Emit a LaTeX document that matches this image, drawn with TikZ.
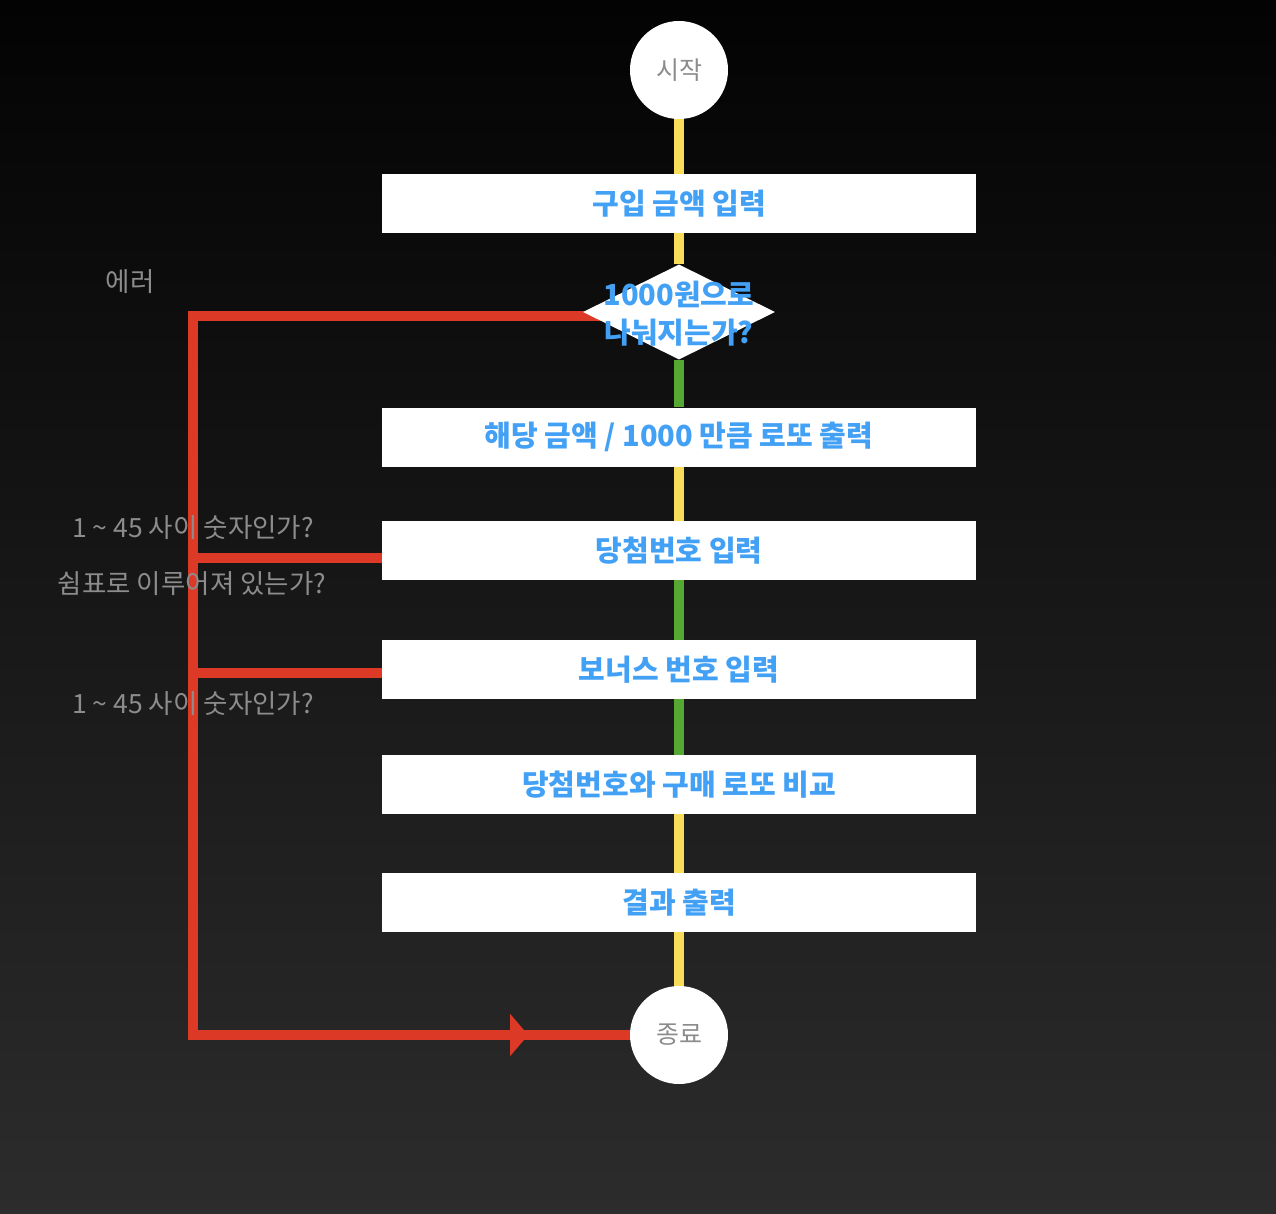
\documentclass[tikz,border=0pt]{standalone}
\usepackage{fontspec}
\setmainfont{Noto Sans CJK KR}
\usetikzlibrary{shapes.geometric}
\definecolor{bluet}{RGB}{66,160,245}
\definecolor{grayt}{RGB}{140,140,140}
\definecolor{redl}{RGB}{220,58,38}
\definecolor{yell}{RGB}{247,221,90}
\definecolor{greenl}{RGB}{85,168,50}
\definecolor{bgtop}{RGB}{3,3,3}
\definecolor{bgbot}{RGB}{44,44,44}
\pgfdeclarelayer{bg}
\pgfsetlayers{bg,main}
\begin{document}
\begin{tikzpicture}[x=1pt,y=-1pt,
  procbox/.style={fill=white, minimum width=594pt, minimum height=59pt, inner sep=0pt, text=bluet, font=\fontsize{29}{34}\selectfont\bfseries},
  termc/.style={circle, fill=white, minimum size=98pt, inner sep=0pt, text=grayt, font=\fontsize{25}{29}\selectfont},
  decis/.style={diamond, fill=white, minimum width=192pt, minimum height=95pt, inner sep=0pt},
  ylink/.style={draw=yell, line width=10pt},
  glink/.style={draw=greenl, line width=10pt},
  rlink/.style={draw=redl, line width=10pt, line join=miter},
  note/.style={text=grayt, font=\fontsize{26.5}{30}\selectfont, inner sep=0pt},
]
\useasboundingbox (0,0) rectangle (1276,1214);
\begin{pgfonlayer}{bg}
  \shade[top color=bgtop, bottom color=bgbot] (0,0) rectangle (1276,1214);
\end{pgfonlayer}

\node[termc] (start) at (679,70) {시작};
\node[procbox] (b1) at (679,203.5) {구입 금액 입력};
\node[decis] (d) at (679,312) {};
\node[text=bluet, align=center, inner sep=0pt, font=\fontsize{29}{38}\selectfont\bfseries] (dt) at (679,314) {1000원으로\\나눠지는가?};
\node[procbox] (b2) at (679,437) {해당 금액 / 1000 만큼 로또 출력};
\node[procbox] (b3) at (679,550.5) {당첨번호 입력};
\node[procbox] (b4) at (679,669.5) {보너스 번호 입력};
\node[procbox] (b5) at (679,784.5) {당첨번호와 구매 로또 비교};
\node[procbox] (b6) at (679,902.5) {결과 출력};
\node[termc] (end) at (679,1035) {종료};

\coordinate (cl) at (193,316);

\begin{pgfonlayer}{bg}
  \draw[ylink] (start.south) -- (b1.north);
  \draw[ylink] (b1.south) -- (d.north);
  \draw[glink] (d.south) -- (b2.north);
  \draw[ylink] (b2.south) -- (b3.north);
  \draw[glink] (b3.south) -- (b4.north);
  \draw[glink] (b4.south) -- (b5.north);
  \draw[ylink] (b5.south) -- (b6.north);
  \draw[ylink] (b6.south) -- (end.north);
  \draw[rlink] ([xshift=20pt,yshift=-4pt]d.west) -- (cl) |- (end.west);
  \draw[rlink] ([yshift=-7.5pt]b3.west) -- ([yshift=-7.5pt]b3.west -| cl);
  \draw[rlink] ([yshift=-3.5pt]b4.west) -- ([yshift=-3.5pt]b4.west -| cl);
\end{pgfonlayer}
\node[isosceles triangle, isosceles triangle stretches, fill=redl, minimum height=18pt, minimum width=42pt, inner sep=0pt] (arr) at (518,1035) {};

\node[note] (e) at (130,282) {에러};
\node[note] (n1) at (193,528) {1 \char"7E{} 45 사이 숫자인가?};
\node[note] (n2) at (192,584) {쉼표로 이루어져 있는가?};
\node[note] (n3) at (193,704) {1 \char"7E{} 45 사이 숫자인가?};
\end{tikzpicture}
\end{document}
